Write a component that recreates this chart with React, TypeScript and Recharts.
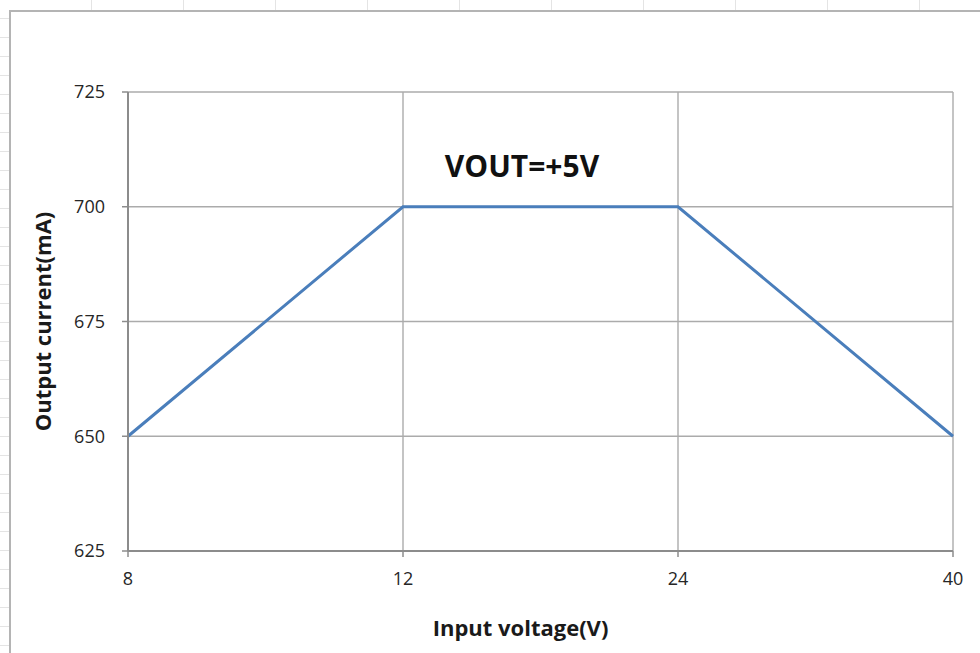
import React from 'react';
import { LineChart, Line, XAxis, YAxis, CartesianGrid } from 'recharts';

const inputVoltages = ['8', '12', '24', '40'];
const outputCurrents = [650, 700, 700, 650];
const yTicks = [625, 650, 675, 700, 725];
const chartTitle = 'VOUT=+5V';
const xTitle = 'Input voltage(V)';
const yTitle = 'Output current(mA)';

const data = inputVoltages.map((v, i) => ({ vin: v, iout: outputCurrents[i] }));

const FONT = '"Open Sans", "Noto Sans", sans-serif';

export default function App() {
  return (
    <div style={{ position: 'absolute', left: 0, top: 0, width: 980, height: 653, background: '#fff', overflow: 'hidden', fontFamily: FONT }}>
      {/* spreadsheet surroundings */}
      <div style={{ position: 'absolute', left: 0, top: 0, width: 980, height: 10, background: 'repeating-linear-gradient(90deg, transparent 0 91px, #e4e4e4 91px 92px)' }} />
      <div style={{ position: 'absolute', left: 0, top: 0, width: 9, height: 653, background: 'repeating-linear-gradient(180deg, transparent 0 18px, #e4e4e4 18px 19px)' }} />
      <div style={{ position: 'absolute', left: 9, top: 10, width: 971, height: 643, borderLeft: '2px solid #b4b4b4', borderTop: '2px solid #b4b4b4', background: '#fff' }} />
      <div style={{ position: 'absolute', left: 0, top: 0 }}>
        <LineChart width={980} height={653} data={data} margin={{ top: 92, right: 27, bottom: 72, left: 68 }}>
          <CartesianGrid stroke="#ababab" strokeWidth={1.4} vertical={true} horizontal={true} />
          <XAxis
            dataKey="vin"
            type="category"
            scale="point"
            height={30}
            padding={{ left: 0, right: 0 }}
            axisLine={{ stroke: '#8c8c8c', strokeWidth: 2 }}
            tickLine={{ stroke: '#8c8c8c', strokeWidth: 1.5 }}
            tickSize={6}
            tick={{ fill: '#262626', fontSize: 18, fontFamily: FONT }}
            tickMargin={15}
            label={(props: any) => {
              const vb = props.viewBox;
              return (
                <text x={vb.x + vb.width / 2 - 20} y={vb.y + 85} textAnchor="middle" fontFamily={FONT} fontWeight="bold" fontSize={22} fill="#1a1a1a">
                  {xTitle}
                </text>
              );
            }}
          />
          <YAxis
            type="number"
            domain={[625, 725]}
            ticks={yTicks}
            width={60}
            axisLine={{ stroke: '#8c8c8c', strokeWidth: 2 }}
            tickLine={{ stroke: '#8c8c8c', strokeWidth: 1.5 }}
            tickSize={6}
            tickMargin={17}
            tick={{ fill: '#262626', fontSize: 18, fontFamily: FONT }}
            label={(props: any) => {
              const vb = props.viewBox;
              const cx = vb.x - 26;
              const cy = vb.y + vb.height / 2;
              return (
                <text x={cx} y={cy} transform={`rotate(-90 ${cx} ${cy})`} textAnchor="middle" dominantBaseline="central" fontFamily={FONT} fontWeight="bold" fontSize={22} fill="#1a1a1a">
                  {yTitle}
                </text>
              );
            }}
          />
          <Line type="linear" dataKey="iout" stroke="#4a7ebb" strokeWidth={3} dot={false} isAnimationActive={false} />
        </LineChart>
      </div>
      <div style={{ position: 'absolute', left: 422, top: 146, width: 200, textAlign: 'center', fontFamily: FONT, fontWeight: 'bold', fontSize: 30, color: '#111', lineHeight: '40px' }}>
        {chartTitle}
      </div>
    </div>
  );
}
